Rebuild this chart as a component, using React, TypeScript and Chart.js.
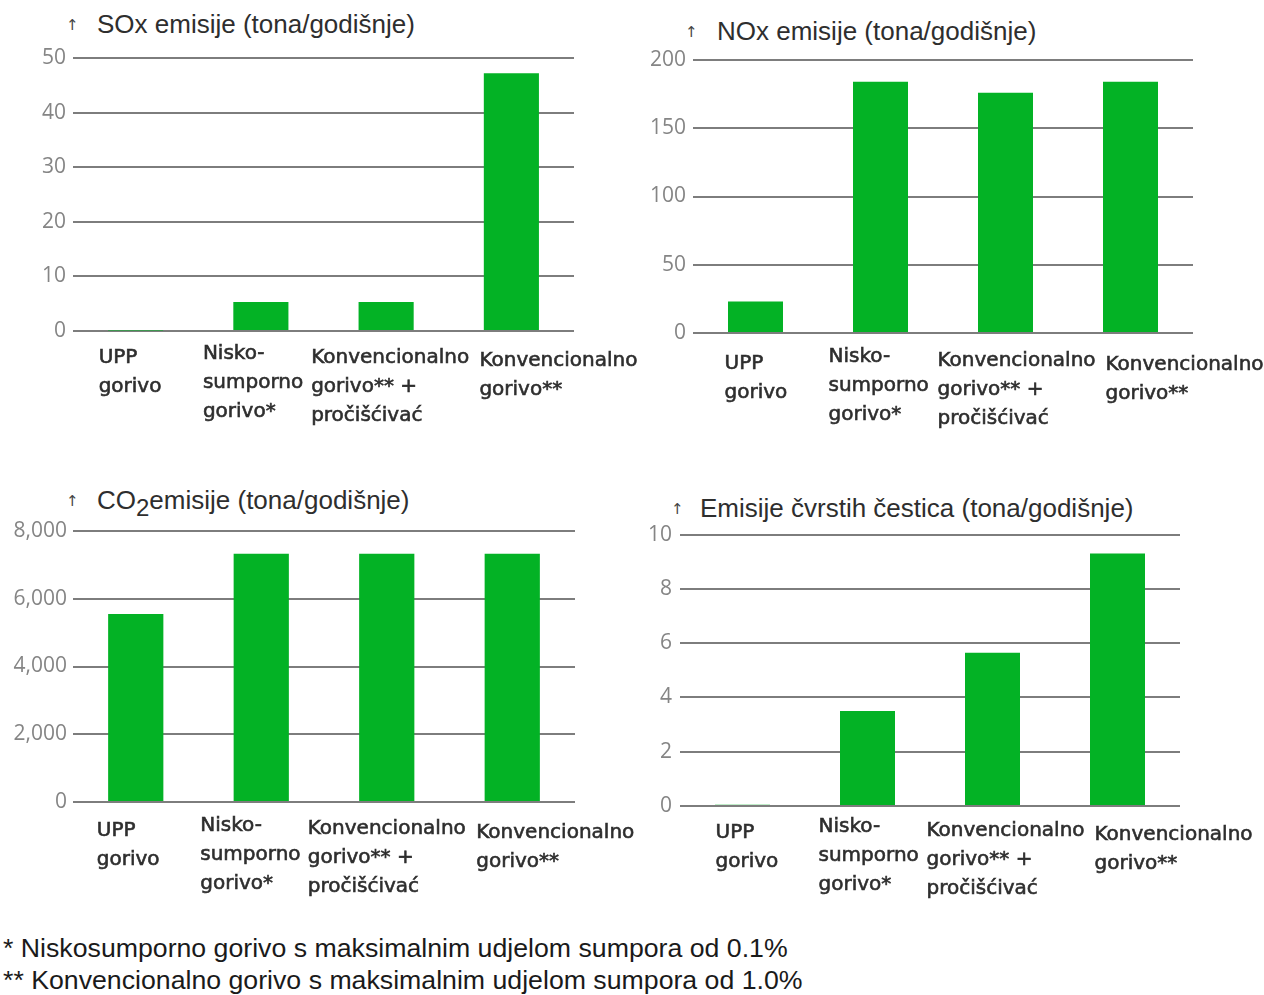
import React, { useEffect, useRef } from 'react';
import { Chart, registerables } from 'chart.js';
Chart.register(...registerables);

// ---- data ----
const categories: string[][] = [
  ['UPP', 'gorivo'],
  ['Nisko-', 'sumporno', 'gorivo*'],
  ['Konvencionalno', 'gorivo** +', 'pročišćivać'],
  ['Konvencionalno', 'gorivo**'],
];
const soxValues = [0.1, 5.3, 5.3, 47.2];
const noxValues = [23, 184, 176, 184];
const co2Values = [5550, 7330, 7330, 7330];
const pmValues = [0.05, 3.5, 5.65, 9.3];

const soxTicks = [0, 10, 20, 30, 40, 50];
const noxTicks = [0, 50, 100, 150, 200];
const co2Ticks = [0, 2000, 4000, 6000, 8000];
const pmTicks = [0, 2, 4, 6, 8, 10];

const footnotes = [
  '* Niskosumporno gorivo s maksimalnim udjelom sumpora od 0.1%',
  '** Konvencionalno gorivo s maksimalnim udjelom sumpora od 1.0%',
];

const BAR_COLOR = '#03b225';
const GRID_COLOR = '#7d7d7d';
const TEXT_COLOR = '#2e2e2e';

const xLabelPlugin = {
  id: 'xlabels',
  afterDraw(chart: any, _args: any, opts: any) {
    const { ctx, chartArea } = chart;
    const xs = chart.scales.x;
    ctx.save();
    ctx.font = opts.font;
    ctx.fillStyle = opts.color;
    ctx.strokeStyle = opts.color;
    ctx.lineWidth = 0.6;
    ctx.textAlign = 'left';
    ctx.textBaseline = 'middle';
    (chart.data.labels as any[]).forEach((lab, i) => {
      const lines = Array.isArray(lab) ? lab : [lab];
      const x = xs.getPixelForValue(i) + opts.dx[i];
      lines.forEach((ln: string, k: number) => {
        const y = chartArea.bottom + opts.dy[i] + k * opts.lineHeight;
        ctx.fillText(ln, x, y);
        ctx.strokeText(ln, x, y);
      });
    });
    ctx.restore();
  },
};

type Rect = { left: number; top: number; width: number; height: number };
type Area = { l: number; t: number; r: number; b: number };

function BarPanel(props: {
  values: number[];
  ticks: number[];
  canvas: Rect;
  area: Area;
  tickPad: number;
  dx: number[];
  dy: number[];
  format?: (v: number) => string;
}) {
  const ref = useRef<HTMLCanvasElement | null>(null);
  useEffect(() => {
    const { canvas, area, ticks } = props;
    const step = ticks[1] - ticks[0];
    const chart = new Chart(ref.current as HTMLCanvasElement, {
      type: 'bar',
      data: {
        labels: categories as any,
        datasets: [
          {
            data: props.values,
            backgroundColor: BAR_COLOR,
            borderWidth: 0,
            barPercentage: 0.44,
            categoryPercentage: 1,
          },
        ],
      },
      options: {
        responsive: false,
        animation: false,
        devicePixelRatio: 1,
        layout: {
          padding: {
            left: 0,
            top: area.t - canvas.top,
            right: canvas.left + canvas.width - area.r,
            bottom: canvas.top + canvas.height - area.b,
          },
        },
        plugins: {
          legend: { display: false },
          tooltip: { enabled: false },
          title: { display: false },
          xlabels: {
            font: '20px "DejaVu Sans", sans-serif',
            color: TEXT_COLOR,
            dx: props.dx,
            dy: props.dy,
            lineHeight: 29,
          },
        } as any,
        scales: {
          x: { display: false },
          y: {
            min: ticks[0],
            max: ticks[ticks.length - 1],
            border: { display: false },
            grid: { color: GRID_COLOR, lineWidth: 2, drawTicks: false },
            ticks: {
              stepSize: step,
              padding: props.tickPad,
              color: '#858585',
              font: { family: '"Open Sans", sans-serif', size: 21 },
              callback: (v: any) => (props.format ? props.format(Number(v)) : String(v)),
            },
            afterFit: (s: any) => {
              s.width = area.l - canvas.left;
            },
          },
        },
      },
      plugins: [xLabelPlugin],
    });
    return () => chart.destroy();
  }, []);
  const c = props.canvas;
  return (
    <canvas
      ref={ref}
      width={c.width}
      height={c.height}
      style={{ position: 'absolute', left: c.left, top: c.top, width: c.width, height: c.height }}
    />
  );
}

function Title(props: { arrowX: number; textX: number; cy: number; children: React.ReactNode }) {
  return (
    <>
      <div
        style={{
          position: 'absolute',
          left: props.arrowX - 7,
          top: props.cy - 9,
          fontFamily: '"DejaVu Sans", sans-serif',
          fontSize: 15,
          lineHeight: '18px',
          color: '#444',
        }}
      >
        ↑
      </div>
      <div
        style={{
          position: 'absolute',
          left: props.textX,
          top: props.cy - 16,
          fontFamily: '"Liberation Sans", Arial, sans-serif',
          fontSize: 26,
          lineHeight: '30px',
          color: TEXT_COLOR,
          whiteSpace: 'nowrap',
        }}
      >
        {props.children}
      </div>
    </>
  );
}

export default function App() {
  const fmt = (v: number) => v.toLocaleString('en-US');
  return (
    <div style={{ position: 'absolute', left: 0, top: 0, width: 1264, height: 995, background: '#fff', overflow: 'hidden' }}>
      <Title arrowX={73} textX={97} cy={25}>SOx emisije (tona/godišnje)</Title>
      <Title arrowX={692} textX={717} cy={32}>NOx emisije (tona/godišnje)</Title>
      <Title arrowX={73} textX={97} cy={501}>
        CO<sub style={{ fontSize: 24, verticalAlign: '-7px', lineHeight: 0 }}>2</sub>emisije (tona/godišnje)
      </Title>
      <Title arrowX={678} textX={700} cy={509}>Emisije čvrstih čestica (tona/godišnje)</Title>

      <BarPanel
        values={soxValues}
        ticks={soxTicks}
        canvas={{ left: 0, top: 38, width: 640, height: 412 }}
        area={{ l: 73, t: 58, r: 574, b: 331 }}
        tickPad={7}
        dx={[-37, -58, -75, -32]}
        dy={[27, 23, 27, 30]}
      />
      <BarPanel
        values={noxValues}
        ticks={noxTicks}
        canvas={{ left: 632, top: 40, width: 632, height: 410 }}
        area={{ l: 693, t: 60, r: 1193, b: 333 }}
        tickPad={7}
        dx={[-31, -52, -68, -25]}
        dy={[31, 24, 28, 32]}
      />
      <BarPanel
        values={co2Values}
        ticks={co2Ticks}
        canvas={{ left: 0, top: 511, width: 640, height: 405 }}
        area={{ l: 73, t: 531, r: 575, b: 802 }}
        tickPad={6}
        dx={[-39, -61, -79, -36]}
        dy={[29, 24, 27, 31]}
        format={fmt}
      />
      <BarPanel
        values={pmValues}
        ticks={pmTicks}
        canvas={{ left: 632, top: 514, width: 632, height: 402 }}
        area={{ l: 680, t: 534, r: 1180, b: 806 }}
        tickPad={8}
        dx={[-27, -49, -66, -23]}
        dy={[27, 21, 25, 29]}
      />

      {footnotes.map((t, i) => (
        <div
          key={i}
          style={{
            position: 'absolute',
            left: 3,
            top: 948 + i * 32 - 16,
            fontFamily: '"Liberation Sans", Arial, sans-serif',
            fontSize: 26.7,
            lineHeight: '32px',
            color: '#1a1a1a',
            whiteSpace: 'nowrap',
          }}
        >
          {t}
        </div>
      ))}
    </div>
  );
}
